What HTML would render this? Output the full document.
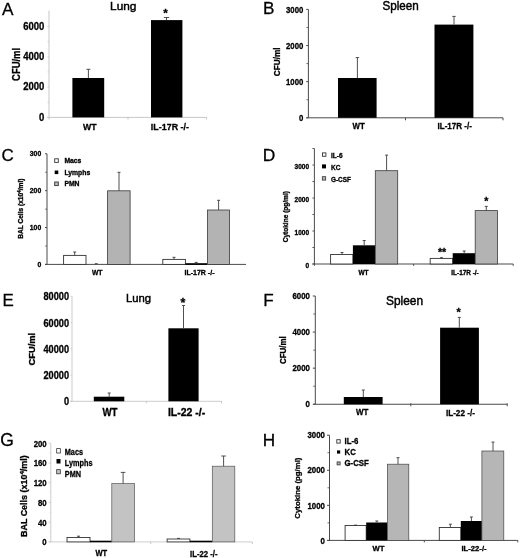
<!DOCTYPE html>
<html><head><meta charset="utf-8"><title>Figure</title>
<style>html,body{margin:0;padding:0;background:#fff;}body{width:520px;height:558px;overflow:hidden;font-family:"Liberation Sans",sans-serif;}svg{display:block;filter:blur(0.35px);}text{font-family:"Liberation Sans",sans-serif;}</style>
</head><body>
<svg width="520" height="558" viewBox="0 0 520 558">
<rect x="0" y="0" width="520" height="558" fill="#ffffff"/>
<line x1="49.00" y1="10.50" x2="49.00" y2="119.40" stroke="#bdbdbd" stroke-width="0.85"/>
<line x1="47.00" y1="117.40" x2="206.50" y2="117.40" stroke="#bdbdbd" stroke-width="0.85"/>
<text transform="translate(44.30,29.87) scale(0.94,1)" x="0" y="0" font-size="10.1" font-weight="bold" stroke="#000" stroke-width="0.3" text-anchor="end" fill="#000" >6000</text>
<text transform="translate(44.30,60.17) scale(0.94,1)" x="0" y="0" font-size="10.1" font-weight="bold" stroke="#000" stroke-width="0.3" text-anchor="end" fill="#000" >4000</text>
<text transform="translate(44.30,90.47) scale(0.94,1)" x="0" y="0" font-size="10.1" font-weight="bold" stroke="#000" stroke-width="0.3" text-anchor="end" fill="#000" >2000</text>
<text transform="translate(44.30,120.77) scale(0.94,1)" x="0" y="0" font-size="10.1" font-weight="bold" stroke="#000" stroke-width="0.3" text-anchor="end" fill="#000" >0</text>
<line x1="47.50" y1="117.40" x2="49.00" y2="117.40" stroke="#c8c8c8" stroke-width="0.8"/>
<line x1="47.50" y1="102.25" x2="49.00" y2="102.25" stroke="#c8c8c8" stroke-width="0.8"/>
<line x1="47.50" y1="87.10" x2="49.00" y2="87.10" stroke="#c8c8c8" stroke-width="0.8"/>
<line x1="47.50" y1="71.95" x2="49.00" y2="71.95" stroke="#c8c8c8" stroke-width="0.8"/>
<line x1="47.50" y1="56.80" x2="49.00" y2="56.80" stroke="#c8c8c8" stroke-width="0.8"/>
<line x1="47.50" y1="41.65" x2="49.00" y2="41.65" stroke="#c8c8c8" stroke-width="0.8"/>
<line x1="47.50" y1="26.50" x2="49.00" y2="26.50" stroke="#c8c8c8" stroke-width="0.8"/>
<line x1="128.00" y1="117.40" x2="128.00" y2="119.40" stroke="#bdbdbd" stroke-width="1"/>
<line x1="206.50" y1="117.40" x2="206.50" y2="119.40" stroke="#bdbdbd" stroke-width="1"/>
<text transform="translate(20.10,64.40) rotate(-90) scale(0.893,1)" x="0" y="0" font-size="10.6" font-weight="bold" stroke="#000" stroke-width="0.3" text-anchor="middle" fill="#000">CFU/ml</text>
<rect x="72.40" y="78.00" width="31.80" height="39.40" fill="#000" />
<line x1="88.40" y1="69.30" x2="88.40" y2="78.00" stroke="#3c3c3c" stroke-width="0.9"/>
<line x1="86.40" y1="69.30" x2="90.40" y2="69.30" stroke="#3c3c3c" stroke-width="0.9"/>
<rect x="151.00" y="20.10" width="31.40" height="97.30" fill="#000" />
<line x1="166.50" y1="17.50" x2="166.50" y2="20.10" stroke="#3c3c3c" stroke-width="0.9"/>
<line x1="163.90" y1="17.50" x2="169.10" y2="17.50" stroke="#3c3c3c" stroke-width="0.9"/>
<text transform="translate(89.80,129.74) scale(0.9,1)" x="0" y="0" font-size="9.7" font-weight="bold" stroke="#000" stroke-width="0.3" text-anchor="middle" fill="#000" >WT</text>
<text transform="translate(169.90,129.81) scale(0.9,1)" x="0" y="0" font-size="9.9" font-weight="bold" stroke="#000" stroke-width="0.3" text-anchor="middle" fill="#000" >IL-17R -/-</text>
<text x="165.40" y="16.53" font-size="11.6" font-weight="bold" text-anchor="middle" fill="#000" stroke="#000" stroke-width="0.3">*</text>
<text transform="translate(123.20,9.89) scale(1.02,1)" x="0" y="0" font-size="11.6" stroke="#000" stroke-width="0.45" text-anchor="middle" fill="#000" >Lung</text>
<text x="7.70" y="14.62" font-size="17.2" stroke="#000" stroke-width="0.28" text-anchor="middle" fill="#000" >A</text>
<line x1="308.40" y1="9.40" x2="308.40" y2="117.80" stroke="#4a4a4a" stroke-width="1"/>
<line x1="306.40" y1="117.80" x2="503.00" y2="117.80" stroke="#4a4a4a" stroke-width="1"/>
<text transform="translate(303.30,121.23) scale(0.83,1)" x="0" y="0" font-size="9.4" font-weight="bold" stroke="#000" stroke-width="0.3" text-anchor="end" fill="#000" >0</text>
<line x1="306.20" y1="117.80" x2="308.40" y2="117.80" stroke="#4a4a4a" stroke-width="1"/>
<text transform="translate(303.30,85.10) scale(0.83,1)" x="0" y="0" font-size="9.4" font-weight="bold" stroke="#000" stroke-width="0.3" text-anchor="end" fill="#000" >1000</text>
<line x1="306.20" y1="81.67" x2="308.40" y2="81.67" stroke="#4a4a4a" stroke-width="1"/>
<text transform="translate(303.30,48.97) scale(0.83,1)" x="0" y="0" font-size="9.4" font-weight="bold" stroke="#000" stroke-width="0.3" text-anchor="end" fill="#000" >2000</text>
<line x1="306.20" y1="45.53" x2="308.40" y2="45.53" stroke="#4a4a4a" stroke-width="1"/>
<text transform="translate(303.30,12.83) scale(0.83,1)" x="0" y="0" font-size="9.4" font-weight="bold" stroke="#000" stroke-width="0.3" text-anchor="end" fill="#000" >3000</text>
<line x1="306.20" y1="9.40" x2="308.40" y2="9.40" stroke="#4a4a4a" stroke-width="1"/>
<line x1="306.40" y1="99.73" x2="308.40" y2="99.73" stroke="#4a4a4a" stroke-width="0.8"/>
<line x1="306.40" y1="63.60" x2="308.40" y2="63.60" stroke="#4a4a4a" stroke-width="0.8"/>
<line x1="306.40" y1="27.47" x2="308.40" y2="27.47" stroke="#4a4a4a" stroke-width="0.8"/>
<line x1="405.50" y1="117.80" x2="405.50" y2="120.30" stroke="#4a4a4a" stroke-width="1"/>
<line x1="503.00" y1="117.80" x2="503.00" y2="120.30" stroke="#4a4a4a" stroke-width="1"/>
<text transform="translate(280.20,61.80) rotate(-90) scale(0.855,1)" x="0" y="0" font-size="9.6" font-weight="bold" stroke="#000" stroke-width="0.3" text-anchor="middle" fill="#000">CFU/ml</text>
<rect x="338.00" y="78.00" width="38.60" height="39.80" fill="#000" />
<line x1="357.40" y1="57.60" x2="357.40" y2="78.00" stroke="#3c3c3c" stroke-width="0.9"/>
<line x1="355.70" y1="57.60" x2="359.10" y2="57.60" stroke="#3c3c3c" stroke-width="0.9"/>
<rect x="434.50" y="24.60" width="38.90" height="93.20" fill="#000" />
<line x1="454.00" y1="16.40" x2="454.00" y2="24.60" stroke="#3c3c3c" stroke-width="0.9"/>
<line x1="452.30" y1="16.40" x2="455.70" y2="16.40" stroke="#3c3c3c" stroke-width="0.9"/>
<text transform="translate(358.60,129.16) scale(0.86,1)" x="0" y="0" font-size="9.2" font-weight="bold" stroke="#000" stroke-width="0.3" text-anchor="middle" fill="#000" >WT</text>
<text transform="translate(454.70,129.06) scale(0.875,1)" x="0" y="0" font-size="9.2" font-weight="bold" stroke="#000" stroke-width="0.3" text-anchor="middle" fill="#000" >IL-17R -/-</text>
<text transform="translate(400.60,9.83) scale(0.95,1)" x="0" y="0" font-size="12.3" stroke="#000" stroke-width="0.45" text-anchor="middle" fill="#000" >Spleen</text>
<text x="268.80" y="14.22" font-size="17.2" stroke="#000" stroke-width="0.28" text-anchor="middle" fill="#000" >B</text>
<line x1="47.00" y1="153.80" x2="47.00" y2="264.40" stroke="#4a4a4a" stroke-width="1"/>
<line x1="45.00" y1="264.40" x2="246.00" y2="264.40" stroke="#4a4a4a" stroke-width="1"/>
<text x="41.20" y="266.94" font-size="6.8" font-weight="bold" stroke="#000" stroke-width="0.3" text-anchor="end" fill="#000" >0</text>
<line x1="45.00" y1="264.40" x2="47.00" y2="264.40" stroke="#4a4a4a" stroke-width="1"/>
<text x="41.20" y="230.07" font-size="6.8" font-weight="bold" stroke="#000" stroke-width="0.3" text-anchor="end" fill="#000" >100</text>
<line x1="45.00" y1="227.53" x2="47.00" y2="227.53" stroke="#4a4a4a" stroke-width="1"/>
<text x="41.20" y="193.21" font-size="6.8" font-weight="bold" stroke="#000" stroke-width="0.3" text-anchor="end" fill="#000" >200</text>
<line x1="45.00" y1="190.67" x2="47.00" y2="190.67" stroke="#4a4a4a" stroke-width="1"/>
<text x="41.20" y="156.34" font-size="6.8" font-weight="bold" stroke="#000" stroke-width="0.3" text-anchor="end" fill="#000" >300</text>
<line x1="45.00" y1="153.80" x2="47.00" y2="153.80" stroke="#4a4a4a" stroke-width="1"/>
<line x1="45.20" y1="245.97" x2="47.00" y2="245.97" stroke="#4a4a4a" stroke-width="0.8"/>
<line x1="45.20" y1="209.10" x2="47.00" y2="209.10" stroke="#4a4a4a" stroke-width="0.8"/>
<line x1="45.20" y1="172.23" x2="47.00" y2="172.23" stroke="#4a4a4a" stroke-width="0.8"/>
<text transform="translate(22.87,208.70) rotate(-90) scale(1.0,1)" x="0" y="0" font-size="6.6" font-weight="bold" stroke="#000" stroke-width="0.3" text-anchor="middle" fill="#000">BAL Cells (x10<tspan font-size="4.5" dy="-2.2">4</tspan><tspan dy="2.2">/ml)</tspan></text>
<rect x="54.70" y="158.80" width="3.60" height="3.60" fill="#fff" stroke="#333" stroke-width="0.9"/>
<rect x="54.70" y="170.50" width="3.60" height="3.60" fill="#000" />
<rect x="54.70" y="182.00" width="3.60" height="3.60" fill="#bcbcbc" stroke="#333" stroke-width="0.9"/>
<text x="64.40" y="162.94" font-size="6.8" font-weight="bold" stroke="#000" stroke-width="0.3" text-anchor="start" fill="#000" >Macs</text>
<text x="64.40" y="174.74" font-size="6.8" font-weight="bold" stroke="#000" stroke-width="0.3" text-anchor="start" fill="#000" >Lymphs</text>
<text x="64.40" y="185.94" font-size="6.8" font-weight="bold" stroke="#000" stroke-width="0.3" text-anchor="start" fill="#000" >PMN</text>
<rect x="63.60" y="255.40" width="22.40" height="9.00" fill="#fff" stroke="#333" stroke-width="0.9"/>
<line x1="74.70" y1="252.00" x2="74.70" y2="255.40" stroke="#3c3c3c" stroke-width="0.9"/>
<line x1="73.20" y1="252.00" x2="76.20" y2="252.00" stroke="#3c3c3c" stroke-width="0.9"/>
<line x1="94.80" y1="263.70" x2="97.80" y2="263.70" stroke="#222" stroke-width="0.8"/>
<rect x="107.60" y="190.80" width="22.50" height="73.60" fill="#b3b3b3" stroke="#3a3a3a" stroke-width="0.8"/>
<line x1="119.00" y1="172.30" x2="119.00" y2="190.80" stroke="#3c3c3c" stroke-width="0.9"/>
<line x1="117.50" y1="172.30" x2="120.50" y2="172.30" stroke="#3c3c3c" stroke-width="0.9"/>
<rect x="162.80" y="259.40" width="22.60" height="5.00" fill="#fff" stroke="#333" stroke-width="0.9"/>
<line x1="174.00" y1="257.30" x2="174.00" y2="259.40" stroke="#3c3c3c" stroke-width="0.9"/>
<line x1="172.50" y1="257.30" x2="175.50" y2="257.30" stroke="#3c3c3c" stroke-width="0.9"/>
<rect x="185.40" y="263.20" width="22.00" height="1.70" fill="#000" />
<line x1="196.20" y1="262.40" x2="196.20" y2="263.20" stroke="#3c3c3c" stroke-width="0.9"/>
<line x1="194.70" y1="262.40" x2="197.70" y2="262.40" stroke="#3c3c3c" stroke-width="0.9"/>
<rect x="207.40" y="210.00" width="22.20" height="54.40" fill="#b3b3b3" stroke="#3a3a3a" stroke-width="0.8"/>
<line x1="218.60" y1="200.30" x2="218.60" y2="210.00" stroke="#3c3c3c" stroke-width="0.9"/>
<line x1="217.10" y1="200.30" x2="220.10" y2="200.30" stroke="#3c3c3c" stroke-width="0.9"/>
<text x="97.20" y="274.74" font-size="6.8" font-weight="bold" stroke="#000" stroke-width="0.3" text-anchor="middle" fill="#000" >WT</text>
<text x="199.50" y="274.51" font-size="7.0" font-weight="bold" stroke="#000" stroke-width="0.3" text-anchor="middle" fill="#000" >IL-17R -/-</text>
<text x="7.70" y="161.45" font-size="17.0" stroke="#000" stroke-width="0.28" text-anchor="middle" fill="#000" >C</text>
<line x1="314.40" y1="148.50" x2="314.40" y2="265.80" stroke="#4a4a4a" stroke-width="1"/>
<line x1="312.40" y1="264.00" x2="513.20" y2="264.00" stroke="#4a4a4a" stroke-width="1"/>
<text x="309.00" y="267.84" font-size="6.5" font-weight="bold" stroke="#000" stroke-width="0.3" text-anchor="end" fill="#000" >0</text>
<text x="309.00" y="234.84" font-size="6.5" font-weight="bold" stroke="#000" stroke-width="0.3" text-anchor="end" fill="#000" >1000</text>
<text x="309.00" y="201.84" font-size="6.5" font-weight="bold" stroke="#000" stroke-width="0.3" text-anchor="end" fill="#000" >2000</text>
<text x="309.00" y="168.84" font-size="6.5" font-weight="bold" stroke="#000" stroke-width="0.3" text-anchor="end" fill="#000" >3000</text>
<line x1="312.40" y1="264.00" x2="314.40" y2="264.00" stroke="#4a4a4a" stroke-width="0.9"/>
<line x1="312.40" y1="247.50" x2="314.40" y2="247.50" stroke="#4a4a4a" stroke-width="0.9"/>
<line x1="312.40" y1="231.00" x2="314.40" y2="231.00" stroke="#4a4a4a" stroke-width="0.9"/>
<line x1="312.40" y1="214.50" x2="314.40" y2="214.50" stroke="#4a4a4a" stroke-width="0.9"/>
<line x1="312.40" y1="198.00" x2="314.40" y2="198.00" stroke="#4a4a4a" stroke-width="0.9"/>
<line x1="312.40" y1="181.50" x2="314.40" y2="181.50" stroke="#4a4a4a" stroke-width="0.9"/>
<line x1="312.40" y1="165.00" x2="314.40" y2="165.00" stroke="#4a4a4a" stroke-width="0.9"/>
<line x1="312.40" y1="148.50" x2="314.40" y2="148.50" stroke="#4a4a4a" stroke-width="0.9"/>
<line x1="413.60" y1="264.00" x2="413.60" y2="265.80" stroke="#4a4a4a" stroke-width="1"/>
<line x1="513.20" y1="264.00" x2="513.20" y2="265.80" stroke="#4a4a4a" stroke-width="1"/>
<text transform="translate(288.46,216.70) rotate(-90) scale(1.0,1)" x="0" y="0" font-size="6.56" font-weight="bold" stroke="#000" stroke-width="0.3" text-anchor="middle" fill="#000">Cytokine (pg/ml)</text>
<rect x="322.50" y="152.90" width="3.40" height="3.40" fill="#fff" stroke="#333" stroke-width="0.9"/>
<rect x="322.00" y="164.40" width="4.00" height="4.00" fill="#000" />
<rect x="322.30" y="176.70" width="3.40" height="3.40" fill="#b3b3b3" stroke="#333" stroke-width="0.8"/>
<text x="331.00" y="157.64" font-size="6.5" font-weight="bold" stroke="#000" stroke-width="0.3" text-anchor="start" fill="#000" >IL-6</text>
<text x="331.00" y="169.74" font-size="6.5" font-weight="bold" stroke="#000" stroke-width="0.3" text-anchor="start" fill="#000" >KC</text>
<text x="331.00" y="181.60" font-size="6.4" font-weight="bold" stroke="#000" stroke-width="0.3" text-anchor="start" fill="#000" >G-CSF</text>
<rect x="330.60" y="254.50" width="22.30" height="9.50" fill="#fff" stroke="#333" stroke-width="0.9"/>
<line x1="342.00" y1="252.50" x2="342.00" y2="254.50" stroke="#3c3c3c" stroke-width="0.9"/>
<line x1="340.50" y1="252.50" x2="343.50" y2="252.50" stroke="#3c3c3c" stroke-width="0.9"/>
<rect x="352.90" y="245.30" width="22.40" height="18.70" fill="#000" />
<line x1="364.20" y1="240.50" x2="364.20" y2="245.30" stroke="#3c3c3c" stroke-width="0.9"/>
<line x1="362.70" y1="240.50" x2="365.70" y2="240.50" stroke="#3c3c3c" stroke-width="0.9"/>
<rect x="375.30" y="170.70" width="22.40" height="93.30" fill="#b3b3b3" stroke="#3a3a3a" stroke-width="0.8"/>
<line x1="386.60" y1="155.10" x2="386.60" y2="170.70" stroke="#3c3c3c" stroke-width="0.9"/>
<line x1="385.10" y1="155.10" x2="388.10" y2="155.10" stroke="#3c3c3c" stroke-width="0.9"/>
<rect x="430.20" y="258.40" width="22.50" height="5.60" fill="#fff" stroke="#333" stroke-width="0.9"/>
<line x1="441.50" y1="257.70" x2="441.50" y2="258.40" stroke="#3c3c3c" stroke-width="0.9"/>
<line x1="440.00" y1="257.70" x2="443.00" y2="257.70" stroke="#3c3c3c" stroke-width="0.9"/>
<rect x="452.70" y="253.20" width="22.50" height="10.80" fill="#000" />
<line x1="464.20" y1="251.00" x2="464.20" y2="253.20" stroke="#3c3c3c" stroke-width="0.9"/>
<line x1="462.70" y1="251.00" x2="465.70" y2="251.00" stroke="#3c3c3c" stroke-width="0.9"/>
<rect x="475.20" y="210.60" width="22.30" height="53.40" fill="#b3b3b3" stroke="#3a3a3a" stroke-width="0.8"/>
<line x1="486.30" y1="206.40" x2="486.30" y2="210.60" stroke="#3c3c3c" stroke-width="0.9"/>
<line x1="484.80" y1="206.40" x2="487.80" y2="206.40" stroke="#3c3c3c" stroke-width="0.9"/>
<text x="363.50" y="274.74" font-size="6.5" font-weight="bold" stroke="#000" stroke-width="0.3" text-anchor="middle" fill="#000" >WT</text>
<text x="465.00" y="274.90" font-size="6.4" font-weight="bold" stroke="#000" stroke-width="0.3" text-anchor="middle" fill="#000" >IL-17R -/-</text>
<text x="442.10" y="256.33" font-size="10.6" font-weight="bold" text-anchor="middle" fill="#000" stroke="#000" stroke-width="0.3">**</text>
<text x="486.20" y="205.33" font-size="10.6" font-weight="bold" text-anchor="middle" fill="#000" stroke="#000" stroke-width="0.3">*</text>
<text x="269.10" y="161.39" font-size="17.4" stroke="#000" stroke-width="0.28" text-anchor="middle" fill="#000" >D</text>
<line x1="72.00" y1="296.30" x2="72.00" y2="401.30" stroke="#c2c2c2" stroke-width="0.85"/>
<line x1="70.00" y1="401.30" x2="221.60" y2="401.30" stroke="#c2c2c2" stroke-width="0.85"/>
<text transform="translate(69.00,405.44) scale(0.92,1)" x="0" y="0" font-size="10.0" font-weight="bold" stroke="#000" stroke-width="0.3" text-anchor="end" fill="#000" >0</text>
<line x1="70.50" y1="401.30" x2="72.00" y2="401.30" stroke="#c8c8c8" stroke-width="0.8"/>
<text transform="translate(69.00,379.19) scale(0.92,1)" x="0" y="0" font-size="10.0" font-weight="bold" stroke="#000" stroke-width="0.3" text-anchor="end" fill="#000" >20000</text>
<line x1="70.50" y1="375.05" x2="72.00" y2="375.05" stroke="#c8c8c8" stroke-width="0.8"/>
<text transform="translate(69.00,352.94) scale(0.92,1)" x="0" y="0" font-size="10.0" font-weight="bold" stroke="#000" stroke-width="0.3" text-anchor="end" fill="#000" >40000</text>
<line x1="70.50" y1="348.80" x2="72.00" y2="348.80" stroke="#c8c8c8" stroke-width="0.8"/>
<text transform="translate(69.00,326.69) scale(0.92,1)" x="0" y="0" font-size="10.0" font-weight="bold" stroke="#000" stroke-width="0.3" text-anchor="end" fill="#000" >60000</text>
<line x1="70.50" y1="322.55" x2="72.00" y2="322.55" stroke="#c8c8c8" stroke-width="0.8"/>
<text transform="translate(69.00,300.44) scale(0.92,1)" x="0" y="0" font-size="10.0" font-weight="bold" stroke="#000" stroke-width="0.3" text-anchor="end" fill="#000" >80000</text>
<line x1="70.50" y1="296.30" x2="72.00" y2="296.30" stroke="#c8c8c8" stroke-width="0.8"/>
<line x1="146.30" y1="401.30" x2="146.30" y2="403.30" stroke="#c2c2c2" stroke-width="1"/>
<line x1="221.60" y1="401.30" x2="221.60" y2="403.30" stroke="#c2c2c2" stroke-width="1"/>
<text transform="translate(34.53,349.20) rotate(-90) scale(1.0,1)" x="0" y="0" font-size="9.4" font-weight="bold" stroke="#000" stroke-width="0.3" text-anchor="middle" fill="#000">CFU/ml</text>
<rect x="93.80" y="396.70" width="30.50" height="4.60" fill="#000" />
<line x1="109.20" y1="393.00" x2="109.20" y2="396.70" stroke="#3c3c3c" stroke-width="0.9"/>
<line x1="107.70" y1="393.00" x2="110.70" y2="393.00" stroke="#3c3c3c" stroke-width="0.9"/>
<rect x="168.40" y="328.30" width="30.20" height="73.00" fill="#000" />
<line x1="183.50" y1="305.50" x2="183.50" y2="328.30" stroke="#3c3c3c" stroke-width="0.9"/>
<line x1="182.00" y1="305.50" x2="185.00" y2="305.50" stroke="#3c3c3c" stroke-width="0.9"/>
<text transform="translate(110.00,415.74) scale(0.97,1)" x="0" y="0" font-size="10.0" font-weight="bold" stroke="#000" stroke-width="0.3" text-anchor="middle" fill="#000" >WT</text>
<text transform="translate(186.60,415.64) scale(1.05,1)" x="0" y="0" font-size="10.0" font-weight="bold" stroke="#000" stroke-width="0.3" text-anchor="middle" fill="#000" >IL-22 -/-</text>
<text x="183.00" y="307.03" font-size="12.4" font-weight="bold" text-anchor="middle" fill="#000" stroke="#000" stroke-width="0.3">*</text>
<text x="138.60" y="301.99" font-size="11.3" stroke="#000" stroke-width="0.45" text-anchor="middle" fill="#000" >Lung</text>
<text x="8.20" y="305.81" font-size="16.9" stroke="#000" stroke-width="0.28" text-anchor="middle" fill="#000" >E</text>
<line x1="315.30" y1="296.00" x2="315.30" y2="404.25" stroke="#4a4a4a" stroke-width="1"/>
<line x1="313.30" y1="404.25" x2="507.20" y2="404.25" stroke="#4a4a4a" stroke-width="1"/>
<text transform="translate(310.00,407.32) scale(0.83,1)" x="0" y="0" font-size="9.5" font-weight="bold" stroke="#000" stroke-width="0.3" text-anchor="end" fill="#000" >0</text>
<line x1="312.80" y1="404.25" x2="315.30" y2="404.25" stroke="#4a4a4a" stroke-width="1"/>
<text transform="translate(310.00,371.23) scale(0.83,1)" x="0" y="0" font-size="9.5" font-weight="bold" stroke="#000" stroke-width="0.3" text-anchor="end" fill="#000" >2000</text>
<line x1="312.80" y1="368.17" x2="315.30" y2="368.17" stroke="#4a4a4a" stroke-width="1"/>
<text transform="translate(310.00,335.15) scale(0.83,1)" x="0" y="0" font-size="9.5" font-weight="bold" stroke="#000" stroke-width="0.3" text-anchor="end" fill="#000" >4000</text>
<line x1="312.80" y1="332.08" x2="315.30" y2="332.08" stroke="#4a4a4a" stroke-width="1"/>
<text transform="translate(310.00,299.07) scale(0.83,1)" x="0" y="0" font-size="9.5" font-weight="bold" stroke="#000" stroke-width="0.3" text-anchor="end" fill="#000" >6000</text>
<line x1="312.80" y1="296.00" x2="315.30" y2="296.00" stroke="#4a4a4a" stroke-width="1"/>
<line x1="313.30" y1="386.21" x2="315.30" y2="386.21" stroke="#4a4a4a" stroke-width="0.8"/>
<line x1="313.30" y1="350.12" x2="315.30" y2="350.12" stroke="#4a4a4a" stroke-width="0.8"/>
<line x1="313.30" y1="314.04" x2="315.30" y2="314.04" stroke="#4a4a4a" stroke-width="0.8"/>
<line x1="410.80" y1="403.25" x2="410.80" y2="406.25" stroke="#4a4a4a" stroke-width="1"/>
<line x1="507.20" y1="403.25" x2="507.20" y2="406.25" stroke="#4a4a4a" stroke-width="1"/>
<text transform="translate(285.86,350.20) rotate(-90) scale(0.925,1)" x="0" y="0" font-size="8.6" font-weight="bold" stroke="#000" stroke-width="0.3" text-anchor="middle" fill="#000">CFU/ml</text>
<rect x="343.80" y="397.00" width="38.80" height="7.25" fill="#000" />
<line x1="363.30" y1="390.00" x2="363.30" y2="397.00" stroke="#3c3c3c" stroke-width="0.9"/>
<line x1="361.80" y1="390.00" x2="364.80" y2="390.00" stroke="#3c3c3c" stroke-width="0.9"/>
<rect x="440.10" y="327.70" width="38.80" height="76.55" fill="#000" />
<line x1="459.30" y1="317.40" x2="459.30" y2="327.70" stroke="#3c3c3c" stroke-width="0.9"/>
<line x1="457.80" y1="317.40" x2="460.80" y2="317.40" stroke="#3c3c3c" stroke-width="0.9"/>
<text transform="translate(362.20,415.47) scale(0.84,1)" x="0" y="0" font-size="9.5" font-weight="bold" stroke="#000" stroke-width="0.3" text-anchor="middle" fill="#000" >WT</text>
<text transform="translate(460.40,415.77) scale(0.86,1)" x="0" y="0" font-size="9.5" font-weight="bold" stroke="#000" stroke-width="0.3" text-anchor="middle" fill="#000" >IL-22 -/-</text>
<text x="458.50" y="315.58" font-size="10.9" font-weight="bold" text-anchor="middle" fill="#000" stroke="#000" stroke-width="0.3">*</text>
<text transform="translate(404.50,304.93) scale(0.945,1)" x="0" y="0" font-size="12.6" stroke="#000" stroke-width="0.45" text-anchor="middle" fill="#000" >Spleen</text>
<text x="268.40" y="306.08" font-size="17.1" stroke="#000" stroke-width="0.28" text-anchor="middle" fill="#000" >F</text>
<line x1="50.80" y1="443.20" x2="50.80" y2="541.90" stroke="#c4c4c4" stroke-width="0.85"/>
<line x1="48.80" y1="541.90" x2="252.30" y2="541.90" stroke="#c4c4c4" stroke-width="0.85"/>
<text transform="translate(46.70,545.43) scale(0.86,1)" x="0" y="0" font-size="9.1" font-weight="bold" stroke="#000" stroke-width="0.3" text-anchor="end" fill="#000" >0</text>
<line x1="48.80" y1="541.90" x2="50.80" y2="541.90" stroke="#c8c8c8" stroke-width="0.8"/>
<text transform="translate(46.70,525.69) scale(0.86,1)" x="0" y="0" font-size="9.1" font-weight="bold" stroke="#000" stroke-width="0.3" text-anchor="end" fill="#000" >40</text>
<line x1="48.80" y1="522.16" x2="50.80" y2="522.16" stroke="#c8c8c8" stroke-width="0.8"/>
<text transform="translate(46.70,505.95) scale(0.86,1)" x="0" y="0" font-size="9.1" font-weight="bold" stroke="#000" stroke-width="0.3" text-anchor="end" fill="#000" >80</text>
<line x1="48.80" y1="502.42" x2="50.80" y2="502.42" stroke="#c8c8c8" stroke-width="0.8"/>
<text transform="translate(46.70,486.21) scale(0.86,1)" x="0" y="0" font-size="9.1" font-weight="bold" stroke="#000" stroke-width="0.3" text-anchor="end" fill="#000" >120</text>
<line x1="48.80" y1="482.68" x2="50.80" y2="482.68" stroke="#c8c8c8" stroke-width="0.8"/>
<text transform="translate(46.70,466.47) scale(0.86,1)" x="0" y="0" font-size="9.1" font-weight="bold" stroke="#000" stroke-width="0.3" text-anchor="end" fill="#000" >160</text>
<line x1="48.80" y1="462.94" x2="50.80" y2="462.94" stroke="#c8c8c8" stroke-width="0.8"/>
<text transform="translate(46.70,446.73) scale(0.86,1)" x="0" y="0" font-size="9.1" font-weight="bold" stroke="#000" stroke-width="0.3" text-anchor="end" fill="#000" >200</text>
<line x1="48.80" y1="443.20" x2="50.80" y2="443.20" stroke="#c8c8c8" stroke-width="0.8"/>
<line x1="49.60" y1="532.03" x2="50.80" y2="532.03" stroke="#d0d0d0" stroke-width="0.8"/>
<line x1="49.60" y1="512.29" x2="50.80" y2="512.29" stroke="#d0d0d0" stroke-width="0.8"/>
<line x1="49.60" y1="492.55" x2="50.80" y2="492.55" stroke="#d0d0d0" stroke-width="0.8"/>
<line x1="49.60" y1="472.81" x2="50.80" y2="472.81" stroke="#d0d0d0" stroke-width="0.8"/>
<line x1="49.60" y1="453.07" x2="50.80" y2="453.07" stroke="#d0d0d0" stroke-width="0.8"/>
<line x1="150.80" y1="541.90" x2="150.80" y2="543.90" stroke="#c4c4c4" stroke-width="1"/>
<line x1="252.30" y1="541.90" x2="252.30" y2="543.90" stroke="#c4c4c4" stroke-width="1"/>
<text transform="translate(27.18,496.20) rotate(-90) scale(1.0,1)" x="0" y="0" font-size="8.95" font-weight="bold" stroke="#000" stroke-width="0.3" text-anchor="middle" fill="#000">BAL Cells (x10<tspan font-size="6" dy="-3">4</tspan><tspan dy="3">/ml)</tspan></text>
<rect x="56.70" y="448.60" width="3.60" height="4.40" fill="#fff" stroke="#333" stroke-width="0.8"/>
<rect x="56.50" y="459.00" width="4.00" height="4.50" fill="#000" />
<rect x="56.70" y="469.60" width="3.60" height="4.20" fill="#c4c4c4" stroke="#333" stroke-width="0.8"/>
<text transform="translate(64.80,454.96) scale(0.82,1)" x="0" y="0" font-size="8.9" font-weight="bold" stroke="#000" stroke-width="0.3" text-anchor="start" fill="#000" >Macs</text>
<text transform="translate(64.80,465.66) scale(0.82,1)" x="0" y="0" font-size="8.9" font-weight="bold" stroke="#000" stroke-width="0.3" text-anchor="start" fill="#000" >Lymphs</text>
<text transform="translate(64.80,477.26) scale(0.82,1)" x="0" y="0" font-size="8.9" font-weight="bold" stroke="#000" stroke-width="0.3" text-anchor="start" fill="#000" >PMN</text>
<rect x="67.00" y="537.50" width="23.00" height="4.40" fill="#fff" stroke="#333" stroke-width="0.9"/>
<line x1="78.50" y1="536.20" x2="78.50" y2="537.50" stroke="#3c3c3c" stroke-width="0.9"/>
<line x1="77.00" y1="536.20" x2="80.00" y2="536.20" stroke="#3c3c3c" stroke-width="0.9"/>
<rect x="90.00" y="540.70" width="21.80" height="1.60" fill="#000" />
<rect x="111.80" y="483.60" width="22.70" height="58.30" fill="#c3c3c3" stroke="#555" stroke-width="0.7"/>
<line x1="123.10" y1="472.40" x2="123.10" y2="483.60" stroke="#3c3c3c" stroke-width="0.9"/>
<line x1="120.80" y1="472.40" x2="125.40" y2="472.40" stroke="#3c3c3c" stroke-width="0.9"/>
<rect x="167.10" y="539.00" width="22.80" height="2.90" fill="#fff" stroke="#333" stroke-width="0.9"/>
<line x1="178.50" y1="538.40" x2="178.50" y2="539.00" stroke="#3c3c3c" stroke-width="0.9"/>
<line x1="177.00" y1="538.40" x2="180.00" y2="538.40" stroke="#3c3c3c" stroke-width="0.9"/>
<rect x="189.90" y="540.70" width="22.40" height="1.60" fill="#000" />
<rect x="212.30" y="466.20" width="22.50" height="75.70" fill="#c3c3c3" stroke="#555" stroke-width="0.7"/>
<line x1="223.60" y1="456.00" x2="223.60" y2="466.20" stroke="#3c3c3c" stroke-width="0.9"/>
<line x1="221.30" y1="456.00" x2="225.90" y2="456.00" stroke="#3c3c3c" stroke-width="0.9"/>
<text transform="translate(101.30,556.30) scale(0.84,1)" x="0" y="0" font-size="9.0" font-weight="bold" stroke="#000" stroke-width="0.3" text-anchor="middle" fill="#000" >WT</text>
<text transform="translate(203.80,556.50) scale(0.86,1)" x="0" y="0" font-size="9.0" font-weight="bold" stroke="#000" stroke-width="0.3" text-anchor="middle" fill="#000" >IL-22 -/-</text>
<text x="7.00" y="446.12" font-size="17.5" stroke="#000" stroke-width="0.28" text-anchor="middle" fill="#000" >G</text>
<line x1="329.50" y1="435.20" x2="329.50" y2="540.40" stroke="#4a4a4a" stroke-width="1"/>
<line x1="327.50" y1="540.40" x2="517.80" y2="540.40" stroke="#4a4a4a" stroke-width="1"/>
<text transform="translate(324.90,543.63) scale(0.89,1)" x="0" y="0" font-size="8.8" font-weight="bold" stroke="#000" stroke-width="0.3" text-anchor="end" fill="#000" >0</text>
<line x1="327.00" y1="540.40" x2="329.50" y2="540.40" stroke="#4a4a4a" stroke-width="1"/>
<text transform="translate(324.90,508.56) scale(0.89,1)" x="0" y="0" font-size="8.8" font-weight="bold" stroke="#000" stroke-width="0.3" text-anchor="end" fill="#000" >1000</text>
<line x1="327.00" y1="505.33" x2="329.50" y2="505.33" stroke="#4a4a4a" stroke-width="1"/>
<text transform="translate(324.90,473.49) scale(0.89,1)" x="0" y="0" font-size="8.8" font-weight="bold" stroke="#000" stroke-width="0.3" text-anchor="end" fill="#000" >2000</text>
<line x1="327.00" y1="470.27" x2="329.50" y2="470.27" stroke="#4a4a4a" stroke-width="1"/>
<text transform="translate(324.90,438.43) scale(0.89,1)" x="0" y="0" font-size="8.8" font-weight="bold" stroke="#000" stroke-width="0.3" text-anchor="end" fill="#000" >3000</text>
<line x1="327.00" y1="435.20" x2="329.50" y2="435.20" stroke="#4a4a4a" stroke-width="1"/>
<line x1="327.50" y1="522.87" x2="329.50" y2="522.87" stroke="#4a4a4a" stroke-width="0.8"/>
<line x1="327.50" y1="487.80" x2="329.50" y2="487.80" stroke="#4a4a4a" stroke-width="0.8"/>
<line x1="327.50" y1="452.73" x2="329.50" y2="452.73" stroke="#4a4a4a" stroke-width="0.8"/>
<line x1="424.30" y1="540.40" x2="424.30" y2="542.40" stroke="#4a4a4a" stroke-width="1"/>
<line x1="517.80" y1="540.40" x2="517.80" y2="542.40" stroke="#4a4a4a" stroke-width="1"/>
<text transform="translate(299.98,488.10) rotate(-90) scale(1.0,1)" x="0" y="0" font-size="7.8" font-weight="bold" stroke="#000" stroke-width="0.3" text-anchor="middle" fill="#000">Cytokine (pg/ml)</text>
<rect x="336.80" y="439.70" width="3.40" height="3.40" fill="#fff" stroke="#333" stroke-width="0.9"/>
<rect x="337.00" y="450.40" width="3.20" height="3.20" fill="#000" />
<rect x="337.10" y="461.90" width="3.00" height="3.00" fill="#b3b3b3" stroke="#333" stroke-width="0.8"/>
<text transform="translate(344.50,443.96) scale(0.91,1)" x="0" y="0" font-size="8.6" font-weight="bold" stroke="#000" stroke-width="0.3" text-anchor="start" fill="#000" >IL-6</text>
<text transform="translate(344.50,454.86) scale(0.91,1)" x="0" y="0" font-size="8.6" font-weight="bold" stroke="#000" stroke-width="0.3" text-anchor="start" fill="#000" >KC</text>
<text transform="translate(344.50,466.16) scale(0.91,1)" x="0" y="0" font-size="8.6" font-weight="bold" stroke="#000" stroke-width="0.3" text-anchor="start" fill="#000" >G-CSF</text>
<rect x="345.10" y="525.50" width="21.10" height="14.90" fill="#fff" stroke="#333" stroke-width="0.9"/>
<line x1="355.60" y1="525.10" x2="355.60" y2="525.50" stroke="#3c3c3c" stroke-width="0.9"/>
<line x1="354.10" y1="525.10" x2="357.10" y2="525.10" stroke="#3c3c3c" stroke-width="0.9"/>
<rect x="366.20" y="522.50" width="21.20" height="17.90" fill="#000" />
<line x1="376.80" y1="521.00" x2="376.80" y2="522.50" stroke="#3c3c3c" stroke-width="0.9"/>
<line x1="375.30" y1="521.00" x2="378.30" y2="521.00" stroke="#3c3c3c" stroke-width="0.9"/>
<rect x="387.40" y="464.20" width="21.40" height="76.20" fill="#b6b6b6" stroke="#444" stroke-width="0.7"/>
<line x1="398.00" y1="457.70" x2="398.00" y2="464.20" stroke="#3c3c3c" stroke-width="0.9"/>
<line x1="396.50" y1="457.70" x2="399.50" y2="457.70" stroke="#3c3c3c" stroke-width="0.9"/>
<rect x="439.30" y="527.50" width="21.50" height="12.90" fill="#fff" stroke="#333" stroke-width="0.9"/>
<line x1="450.40" y1="524.20" x2="450.40" y2="527.50" stroke="#3c3c3c" stroke-width="0.9"/>
<line x1="448.90" y1="524.20" x2="451.90" y2="524.20" stroke="#3c3c3c" stroke-width="0.9"/>
<rect x="460.80" y="521.00" width="21.10" height="19.40" fill="#000" />
<line x1="471.40" y1="517.00" x2="471.40" y2="521.00" stroke="#3c3c3c" stroke-width="0.9"/>
<line x1="469.90" y1="517.00" x2="472.90" y2="517.00" stroke="#3c3c3c" stroke-width="0.9"/>
<rect x="481.90" y="451.00" width="21.90" height="89.40" fill="#b6b6b6" stroke="#444" stroke-width="0.7"/>
<line x1="493.00" y1="442.10" x2="493.00" y2="451.00" stroke="#3c3c3c" stroke-width="0.9"/>
<line x1="491.50" y1="442.10" x2="494.50" y2="442.10" stroke="#3c3c3c" stroke-width="0.9"/>
<text x="378.40" y="551.45" font-size="7.7" font-weight="bold" stroke="#000" stroke-width="0.3" text-anchor="middle" fill="#000" >WT</text>
<text x="474.00" y="551.25" font-size="7.7" font-weight="bold" stroke="#000" stroke-width="0.3" text-anchor="middle" fill="#000" >IL-22-/-</text>
<text x="269.00" y="446.12" font-size="17.2" stroke="#000" stroke-width="0.28" text-anchor="middle" fill="#000" >H</text>
</svg>
</body></html>
